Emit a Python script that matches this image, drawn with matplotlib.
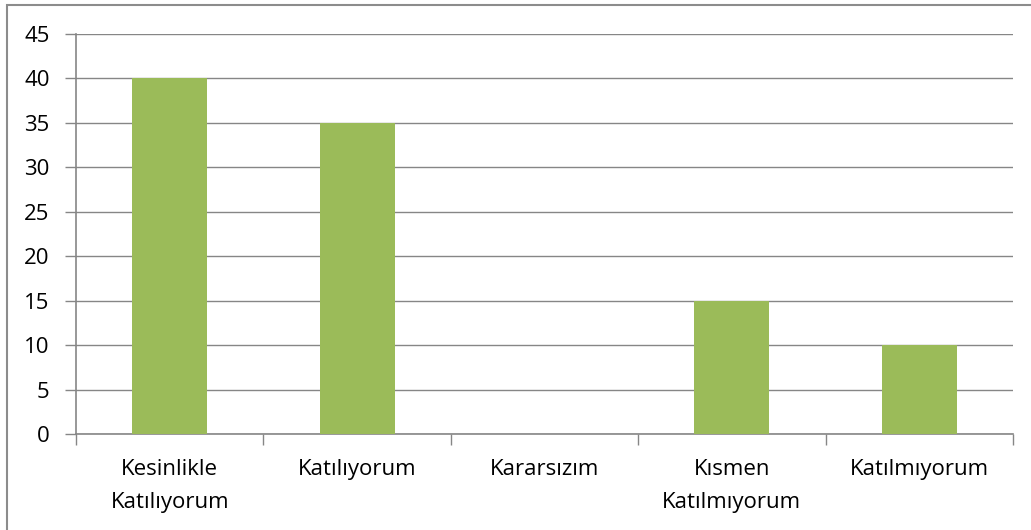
import matplotlib
matplotlib.use("Agg")
import matplotlib.pyplot as plt
from matplotlib.patches import Rectangle

categories = ["Kesinlikle\nKatılıyorum", "Katılıyorum", "Kararsızım", "Kısmen\nKatılmıyorum", "Katılmıyorum"]
values = [40, 35, 0, 15, 10]
yticks = [0, 5, 10, 15, 20, 25, 30, 35, 40, 45]

plt.rcParams['font.family'] = ['Open Sans', 'DejaVu Sans']

W, H = 1031, 530
fig = plt.figure(figsize=(W/100, H/100), dpi=100)
grid_c = "#868686"
fs = 16

# outer border (only top/left visible in reference)
fig.patches.append(Rectangle((7/W, -0.1), 1.2, (530-5)/H + 0.1, transform=fig.transFigure,
                             fill=False, edgecolor="#8c8c8c", linewidth=1.5))

ax = fig.add_axes([76/W, (H-434)/H, (1013-76)/W, (434-34)/H])
x = range(len(categories))
ax.bar(x, values, width=0.4, color="#9BBB59", zorder=3)
ax.set_xlim(-0.5, len(categories) - 0.5)
ax.set_ylim(0, 45)
ax.set_yticks(yticks)
ax.set_yticklabels([str(v) for v in yticks], fontsize=fs)
ax.yaxis.grid(True, color=grid_c, linewidth=1.0, zorder=0)
ax.set_axisbelow(True)

ax.set_xticks([i for i in x])
ax.set_xticklabels(categories, fontsize=fs, linespacing=1.75)
ax.tick_params(axis='x', length=0, pad=18)
ax.set_xticks([i - 0.5 for i in range(len(categories) + 1)], minor=True)
ax.tick_params(axis='x', which='minor', length=8, width=1, color=grid_c)
ax.tick_params(axis='y', length=8, width=1, color=grid_c, pad=11)

for s in ['top', 'right']:
    ax.spines[s].set_visible(False)
for s in ['left', 'bottom']:
    ax.spines[s].set_color(grid_c)
    ax.spines[s].set_linewidth(1.2)

fig.savefig("out.png", dpi=100)
